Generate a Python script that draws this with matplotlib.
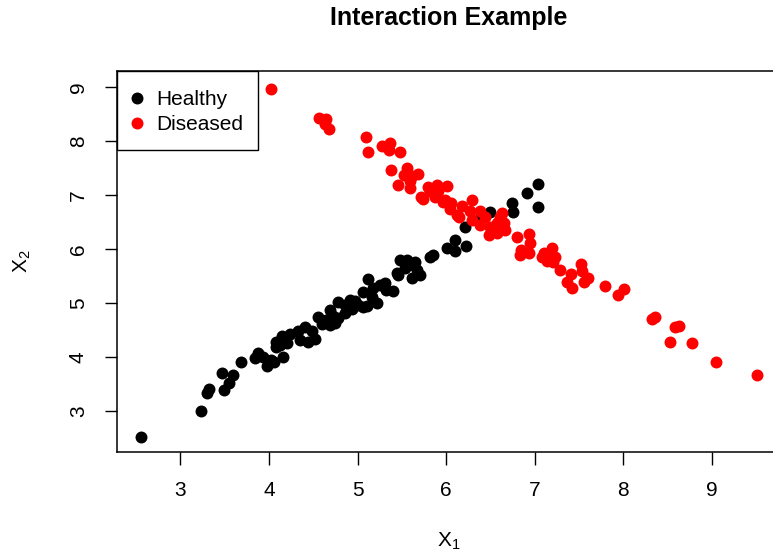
import numpy as np
import matplotlib.pyplot as plt
from matplotlib.patches import Rectangle

plt.rcParams['font.family'] = ['Liberation Sans', 'DejaVu Sans']
plt.rcParams['mathtext.default'] = 'regular'

# healthy group
healthy_x1 = [2.56, 3.23, 3.30, 3.32, 3.47, 3.49, 3.55, 3.60, 3.69, 3.84,
              3.88, 3.93, 3.98, 4.02, 4.06, 4.08, 4.08, 4.13, 4.16, 4.15,
              4.24, 4.33, 4.41, 4.44, 4.49, 4.52, 4.55, 4.60, 4.64, 4.69,
              4.75, 4.78, 4.72, 4.78, 4.86, 4.92, 4.97, 5.01, 5.06, 5.06,
              5.11, 5.16, 5.22, 5.12, 5.17, 5.25, 5.31, 5.40, 5.45, 5.46,
              5.48, 5.54, 5.59, 5.65, 5.62, 5.67, 5.71, 5.56, 5.63, 5.82,
              5.85, 6.01, 6.10, 6.10, 6.23, 6.21, 6.50, 6.74, 6.75, 6.91,
              7.04, 7.04, 6.36, 4.86, 4.69, 4.35, 4.20, 4.94, 5.32]
healthy_x2 = [2.52, 3.00, 3.34, 3.41, 3.71, 3.39, 3.52, 3.67, 3.91, 3.99,
              4.08, 4.01, 3.84, 3.95, 3.91, 4.19, 4.28, 4.23, 4.01, 4.39,
              4.43, 4.49, 4.56, 4.28, 4.49, 4.34, 4.75, 4.62, 4.69, 4.60,
              4.64, 4.73, 4.77, 5.02, 4.97, 5.06, 5.04, 4.97, 5.21, 4.93,
              4.95, 5.12, 5.01, 5.45, 5.28, 5.34, 5.38, 5.23, 5.56, 5.52,
              5.80, 5.65, 5.75, 5.77, 5.47, 5.62, 5.52, 5.80, 5.71, 5.86,
              5.89, 6.02, 6.17, 5.97, 6.06, 6.41, 6.69, 6.86, 6.69, 7.04,
              7.21, 6.78, 6.54, 4.82, 4.88, 4.32, 4.27, 4.89, 5.25]

# diseased group
diseased_x1 = [4.02, 4.57, 4.65, 4.63, 4.68, 5.10, 5.12, 5.28, 5.37, 5.35,
               5.48, 5.38, 5.56, 5.52, 5.61, 5.68, 5.59, 5.46, 5.59, 5.72,
               5.79, 5.90, 6.01, 5.91, 5.82, 5.87, 5.99, 5.74, 5.97, 6.06,
               6.18, 6.29, 6.04, 6.12, 6.27, 6.14, 6.38, 6.44, 6.29, 6.38,
               6.50, 6.57, 6.65, 6.61, 6.48, 6.57, 6.66, 6.63, 6.80, 6.93,
               6.95, 6.85, 6.93, 6.83, 7.10, 7.19, 7.23, 7.14, 7.21, 7.08,
               7.17, 7.28, 7.41, 7.52, 7.53, 7.36, 7.42, 7.56, 7.60, 7.79,
               7.94, 8.01, 8.32, 8.36, 8.58, 8.63, 8.53, 8.77, 9.05, 9.51]
diseased_x2 = [8.97, 8.44, 8.41, 8.32, 8.22, 8.07, 7.81, 7.92, 7.97, 7.83,
               7.80, 7.47, 7.50, 7.38, 7.36, 7.40, 7.27, 7.19, 7.14, 6.97,
               7.16, 7.19, 7.17, 7.07, 7.07, 6.96, 6.91, 6.94, 6.88, 6.85,
               6.81, 6.91, 6.74, 6.64, 6.70, 6.60, 6.70, 6.60, 6.54, 6.45,
               6.42, 6.48, 6.48, 6.60, 6.26, 6.30, 6.36, 6.67, 6.23, 6.28,
               6.12, 5.99, 5.93, 5.89, 5.93, 6.02, 5.86, 5.78, 5.77, 5.86,
               5.93, 5.61, 5.55, 5.72, 5.60, 5.40, 5.29, 5.39, 5.47, 5.32,
               5.15, 5.26, 4.70, 4.74, 4.56, 4.58, 4.29, 4.26, 3.92, 3.67]

fig = plt.figure(figsize=(7.73, 5.57), dpi=100)
ax = fig.add_axes([0.1514, 0.1885, 0.859, 0.6846])

ax.plot(healthy_x1, healthy_x2, 'o', color='black', markersize=8.6,
        markeredgewidth=0, label='Healthy')
ax.plot(diseased_x1, diseased_x2, 'o', color='red', markersize=8.6,
        markeredgewidth=0, label='Diseased')

ax.set_xlim(2.286, 9.78)
ax.set_ylim(2.246, 9.307)
ax.set_xticks(np.arange(3, 10))
ax.set_yticks(np.arange(3, 10))
ax.tick_params(length=9, width=1, labelsize=15, color='black')
ax.tick_params(axis='x', pad=12)
ax.tick_params(axis='y', pad=12, labelrotation=90)
for lab in ax.get_yticklabels():
    lab.set_va('center')
for sp in ax.spines.values():
    sp.set_linewidth(1.1)

ax.set_xlabel(r'$X_1$', fontsize=15, labelpad=22)
ax.set_ylabel(r'$X_2$', fontsize=15, labelpad=26)
fig.text(0.581, 0.967, 'Interaction Example', fontsize=18, fontweight='bold',
         ha='center', va='center')

# legend box drawn separately so it keeps the wide right margin
leg = ax.legend(loc='upper left', bbox_to_anchor=(0, 1), borderaxespad=0,
                frameon=False, fontsize=15, handlelength=0.05,
                handletextpad=0.9, borderpad=0.93, labelspacing=0.3)
ax.add_patch(Rectangle((0, 1 - 0.2072), 0.2124, 0.2072, transform=ax.transAxes,
                       facecolor='none', edgecolor='black', linewidth=1.0,
                       clip_on=False, zorder=5))

fig.savefig('out.png', dpi=100)
